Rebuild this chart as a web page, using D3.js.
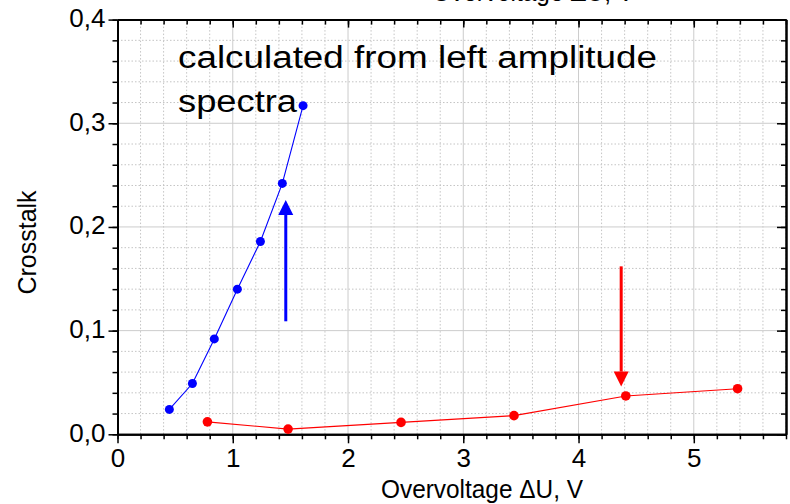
<!DOCTYPE html>
<html>
<head>
<meta charset="utf-8">
<script src="https://cdn.jsdelivr.net/npm/d3@7"></script>
<style>
  body { margin: 0; background: #fff; }
  svg { display: block; font-family: "Liberation Sans", Arial, sans-serif; }
  .grid-major line { stroke: #cccccc; stroke-width: 1; }
  .grid-minor line { stroke: #c4c4c4; stroke-width: 1; stroke-dasharray: 1.5,2; }
  .axis path, .axis line { stroke: #000; }
  .axis path { stroke-width: 2; }
  .axis line { stroke-width: 1.5; }
</style>
</head>
<body>
<svg id="chart" width="790" height="504"></svg>
<script>
// Data
const blueX = [0.45, 0.65, 0.84, 1.04, 1.24, 1.43, 1.61];
const blueY = [0.024, 0.049, 0.092, 0.140, 0.186, 0.242, 0.317];

const redX = [0.78, 1.48, 2.46, 3.44, 4.41, 5.38];
const redY = [0.012, 0.005, 0.0115, 0.018, 0.037, 0.044];

// arrows: x, start y, tip y
const arrowX = [1.46, 4.37];
const arrowFrom = [0.109, 0.162];
const arrowTo = [0.226, 0.046];
const arrowColors = ['#0000ff', '#ff0000'];

const xMajor = [0, 1, 2, 3, 4, 5];
const yMajor = [0.0, 0.1, 0.2, 0.3, 0.4];

const xLabel = 'Overvoltage \u0394U, V';
const yLabel = 'Crosstalk';
const noteLines = ['calculated from left amplitude', 'spectra'];

// Layout
const plotL = 117.5, plotR = 786, plotT = 19.6, plotB = 434.3;

const svg = d3.select('#chart');

const x = d3.scaleLinear().domain([0, 5.8]).range([plotL, plotR]);
const y = d3.scaleLinear().domain([0, 0.4]).range([plotB, plotT]);

const xMinor = d3.range(0, 5.81, 0.2).map(v => +v.toFixed(2));
const yMinor = d3.range(0, 0.401, 0.02).map(v => +v.toFixed(3));

const comma = d3.formatLocale({decimal: ',', thousands: '.', grouping: [3], currency: ['', '']});
const fmtY = comma.format('.1f');

// Grid - minor dotted
const gMinor = svg.append('g').attr('class', 'grid-minor');
gMinor.selectAll('.vx')
    .data(xMinor.filter(v => Math.abs(v - Math.round(v)) > 1e-6))
    .enter().append('line')
    .attr('x1', d => x(d)).attr('x2', d => x(d))
    .attr('y1', plotT).attr('y2', plotB);
gMinor.selectAll('.hy')
    .data(yMinor.filter(v => Math.abs(v * 10 - Math.round(v * 10)) > 1e-6))
    .enter().append('line')
    .attr('y1', d => y(d)).attr('y2', d => y(d))
    .attr('x1', plotL).attr('x2', plotR);

// Grid - major solid
const gMajor = svg.append('g').attr('class', 'grid-major');
gMajor.selectAll('.vx')
    .data(xMajor.filter(v => v > 0))
    .enter().append('line')
    .attr('x1', d => x(d)).attr('x2', d => x(d))
    .attr('y1', plotT).attr('y2', plotB);
gMajor.selectAll('.hy')
    .data(yMajor.filter(v => v > 0 && v < 0.4))
    .enter().append('line')
    .attr('y1', d => y(d)).attr('y2', d => y(d))
    .attr('x1', plotL).attr('x2', plotR);

// Axes: minor ticks first, then major with labels
function addAxis(axisFn, scale, values, size, fmt, transform) {
    const g = svg.append('g').attr('class', 'axis').attr('transform', transform);
    g.call(axisFn(scale).tickValues(values).tickSizeInner(size).tickSizeOuter(0).tickFormat(fmt));
    return g;
}

// bottom
addAxis(d3.axisBottom, x, xMinor, 5, '', `translate(0,${plotB})`);
const gxb = addAxis(d3.axisBottom, x, xMajor, 9, d3.format('d'), `translate(0,${plotB})`);
gxb.selectAll('text').attr('y', 33).attr('dy', 0).attr('fill', '#000')
    .style('font-size', '26px').style('font-family', '"Liberation Sans", Arial, sans-serif');

// left
addAxis(d3.axisLeft, y, yMinor, 5, '', `translate(${plotL},0)`);
const gyl = addAxis(d3.axisLeft, y, yMajor, 9, fmtY, `translate(${plotL},0)`);
gyl.selectAll('text').attr('x', -12).attr('dy', '0.27em').attr('fill', '#000')
    .style('font-size', '26px').style('font-family', '"Liberation Sans", Arial, sans-serif');

// top (ticks inside)
addAxis(d3.axisTop, x, xMinor, -5, '', `translate(0,${plotT})`);
addAxis(d3.axisTop, x, xMajor, -8, '', `translate(0,${plotT})`);

// right (ticks inside)
addAxis(d3.axisRight, y, yMinor, -5, '', `translate(${plotR},0)`);
addAxis(d3.axisRight, y, yMajor, -9, '', `translate(${plotR},0)`);

// Series
const line = d3.line().x(d => x(d[0])).y(d => y(d[1]));

function drawSeries(xs, ys, color, r) {
    const pts = xs.map((v, i) => [v, ys[i]]);
    svg.append('path').datum(pts)
        .attr('d', line)
        .attr('fill', 'none')
        .attr('stroke', color)
        .attr('stroke-width', 1.1);
    svg.append('g').selectAll('circle')
        .data(pts)
        .enter().append('circle')
        .attr('cx', d => x(d[0]))
        .attr('cy', d => y(d[1]))
        .attr('r', r)
        .attr('fill', color);
}
drawSeries(blueX, blueY, '#0000ff', 4.5);
drawSeries(redX, redY, '#ff0000', 4.8);

// Arrows
arrowX.forEach((ax, i) => {
    const px = x(ax);
    const y0 = y(arrowFrom[i]);
    const y1 = y(arrowTo[i]);
    const dir = y1 < y0 ? -1 : 1;
    const headLen = 15, headHalf = 7.5;
    const baseY = y1 - dir * headLen;
    svg.append('line')
        .attr('x1', px).attr('x2', px)
        .attr('y1', y0).attr('y2', baseY)
        .attr('stroke', arrowColors[i])
        .attr('stroke-width', 3);
    svg.append('path')
        .attr('d', `M${px},${y1}L${px - headHalf},${baseY}L${px + headHalf},${baseY}Z`)
        .attr('fill', arrowColors[i]);
});

// Annotation text
svg.append('text')
    .attr('x', 178).attr('y', 68)
    .attr('textLength', 479).attr('lengthAdjust', 'spacingAndGlyphs')
    .style('font-size', '31px')
    .text(noteLines[0]);
svg.append('text')
    .attr('x', 178).attr('y', 112)
    .attr('textLength', 119).attr('lengthAdjust', 'spacingAndGlyphs')
    .style('font-size', '31px')
    .text(noteLines[1]);

// Axis titles
svg.append('text')
    .attr('x', 381).attr('y', 498)
    .attr('textLength', 202).attr('lengthAdjust', 'spacingAndGlyphs')
    .style('font-size', '26px')
    .text(xLabel);

// top title, mostly cut off by the page edge (as in the reference)
svg.append('text')
    .attr('x', 432).attr('y', 1)
    .attr('textLength', 202).attr('lengthAdjust', 'spacingAndGlyphs')
    .style('font-size', '26px')
    .text(xLabel);

svg.append('text')
    .attr('transform', 'translate(36,242.5) rotate(-90)')
    .attr('text-anchor', 'middle')
    .style('font-size', '25px')
    .text(yLabel);
</script>
</body>
</html>
